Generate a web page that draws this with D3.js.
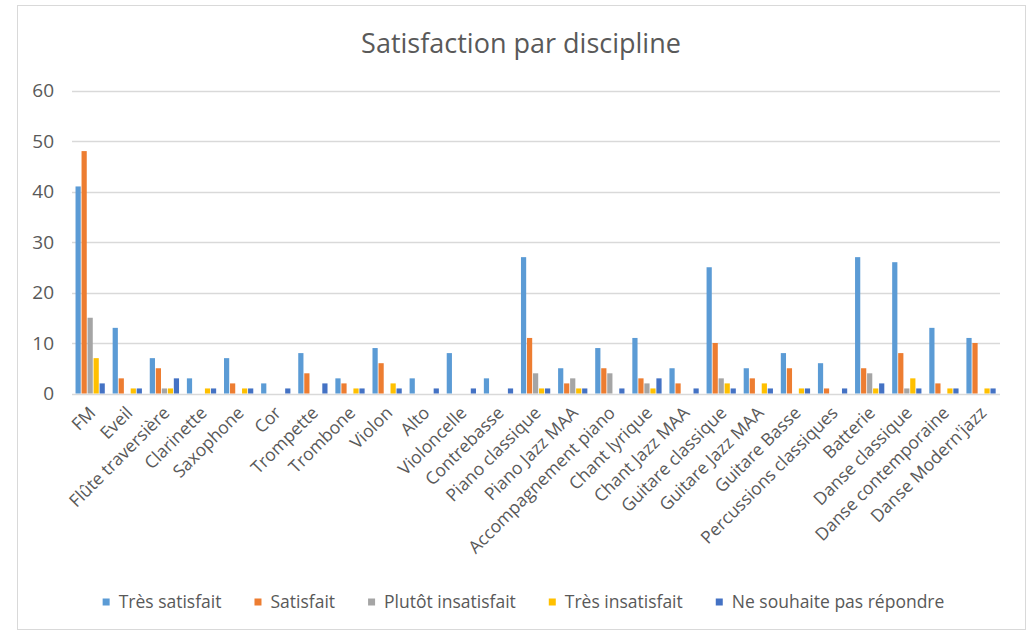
<!DOCTYPE html>
<html>
<head>
<meta charset="utf-8">
<script src="https://cdn.jsdelivr.net/npm/d3@7"></script>
<style>
  html, body { margin: 0; padding: 0; background: #fff; }
  svg { display: block; font-family: "Open Sans", "Noto Sans", sans-serif; }
</style>
</head>
<body>
<svg id="chart" width="1033" height="633"></svg>
<script>
const title = "Satisfaction par discipline";
const categories = ["FM", "Eveil", "Flûte traversière", "Clarinette", "Saxophone", "Cor", "Trompette", "Trombone", "Violon", "Alto", "Violoncelle", "Contrebasse", "Piano classique", "Piano Jazz MAA", "Accompagnement piano", "Chant lyrique", "Chant Jazz MAA", "Guitare classique", "Guitare Jazz MAA", "Guitare Basse", "Percussions classiques", "Batterie", "Danse classique", "Danse contemporaine", "Danse Modern'jazz"];
const seriesNames = ["Très satisfait", "Satisfait", "Plutôt insatisfait", "Très insatisfait", "Ne souhaite pas répondre"];
const tresSatisfait     = [41, 13, 7, 3, 7, 2, 8, 3, 9, 3, 8, 3, 27, 5, 9, 11, 5, 25, 5, 8, 6, 27, 26, 13, 11];
const satisfait         = [48, 3, 5, 0, 2, 0, 4, 2, 6, 0, 0, 0, 11, 2, 5, 3, 2, 10, 3, 5, 1, 5, 8, 2, 10];
const plutotInsatisfait = [15, 0, 1, 0, 0, 0, 0, 0, 0, 0, 0, 0, 4, 3, 4, 2, 0, 3, 0, 0, 0, 4, 1, 0, 0];
const tresInsatisfait   = [7, 1, 1, 1, 1, 0, 0, 1, 2, 0, 0, 0, 1, 1, 0, 1, 0, 2, 2, 1, 0, 1, 3, 1, 1];
const nePasRepondre     = [2, 1, 3, 1, 1, 1, 2, 1, 1, 1, 1, 1, 1, 1, 1, 3, 1, 1, 1, 1, 1, 2, 1, 1, 1];
const yTicks = [0, 10, 20, 30, 40, 50, 60];
const colors = ["#5B9BD5", "#ED7D31", "#A5A5A5", "#FFC000", "#4472C4"];

const seriesValues = [tresSatisfait, satisfait, plutotInsatisfait, tresInsatisfait, nePasRepondre];

const svg = d3.select("#chart");
const textColor = "#595959";

// chart border
svg.append("rect").attr("x", 17.5).attr("y", 5.5).attr("width", 1008).attr("height", 624)
  .attr("fill", "#fff").attr("stroke", "#d9d9d9").attr("stroke-width", 1);

// title
svg.append("text").attr("x", 521).attr("y", 53).attr("text-anchor", "middle")
  .attr("font-size", 27).attr("fill", textColor).text(title);

const x = d3.scaleBand().domain(categories).range([72, 1000]).paddingInner(0.19).paddingOuter(0.095);
const xs = d3.scaleBand().domain(seriesNames).range([0, x.bandwidth()]).padding(0);
const y = d3.scaleLinear().domain([0, 60]).range([393.5, 90.5]);

// gridlines
svg.append("g").selectAll("line").data(yTicks).join("line")
  .attr("x1", 72).attr("x2", 1000)
  .attr("y1", d => Math.round(y(d)) + 0.5).attr("y2", d => Math.round(y(d)) + 0.5)
  .attr("stroke", "#d9d9d9").attr("stroke-width", 1.3);

// y axis labels
const yAxis = d3.axisLeft(y).tickValues(yTicks).tickSize(0).tickPadding(0);
const yg = svg.append("g").attr("transform", "translate(54,0)").call(yAxis);
yg.select(".domain").remove();
yg.selectAll("text").attr("font-size", 19).attr("fill", textColor).attr("font-family", "Open Sans, sans-serif");

// bars
const groups = svg.append("g").selectAll("g").data(categories).join("g")
  .attr("transform", d => `translate(${x(d)},0)`);
groups.selectAll("rect").data((d, i) => seriesNames.map((s, k) => ({ s, k, v: seriesValues[k][i] })))
  .join("rect")
  .attr("x", d => xs(d.s))
  .attr("width", xs.bandwidth() - 0.8)
  .attr("y", d => y(d.v))
  .attr("height", d => y(0) - y(d.v))
  .attr("fill", d => colors[d.k]);

// x axis labels
const xAxis = d3.axisBottom(x).tickSize(0).tickPadding(0);
const xg = svg.append("g").attr("transform", "translate(0,394)").call(xAxis);
xg.select(".domain").remove();
xg.selectAll("text")
  .attr("font-size", 17.5).attr("fill", textColor).attr("font-family", "Open Sans, sans-serif")
  .attr("text-anchor", "end")
  .attr("dy", 0)
  .attr("transform", "translate(6,20) rotate(-45)");

// legend
const legend = svg.append("g");
const items = legend.selectAll("g").data(seriesNames).join("g");
items.append("rect").attr("width", 7).attr("height", 7).attr("y", -3.5).attr("fill", (d, i) => colors[i]);
items.append("text").attr("x", 16).attr("dy", "0.35em").attr("font-size", 17.5).attr("fill", textColor).text(d => d);
let cx = 0;
const positions = [];
items.each(function () {
  const w = 16 + d3.select(this).select("text").node().getComputedTextLength();
  positions.push(cx);
  cx += w + 33;
});
const total = cx - 33;
const startX = 523.5 - total / 2;
items.attr("transform", (d, i) => `translate(${startX + positions[i]},602)`);
</script>
</body>
</html>
